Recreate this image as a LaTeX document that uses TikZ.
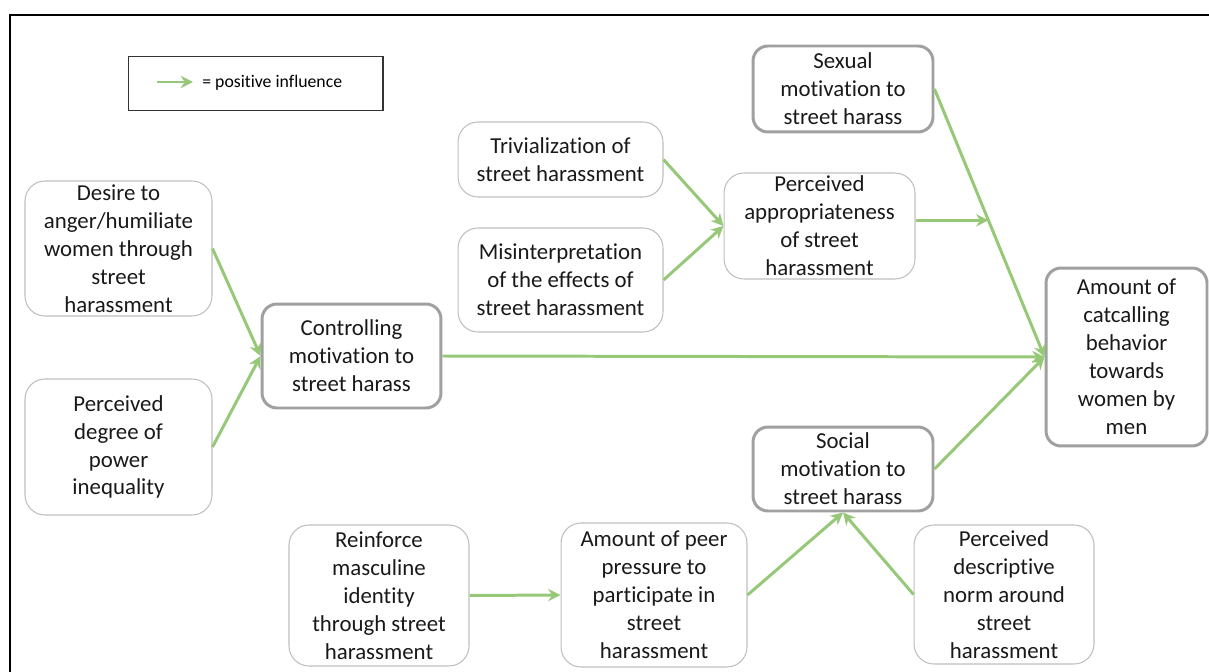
\documentclass[tikz,border=0pt]{standalone}
\usepackage{fontspec}
\setmainfont{Carlito}[Ligatures=NoCommon]
\usepackage{tikz}
\usepackage{xcolor}
\usetikzlibrary{calc, arrows.meta}

\definecolor{arrgreen}{RGB}{150,200,120}
\definecolor{thinline}{RGB}{191,191,191}
\definecolor{thickline}{RGB}{160,160,160}

\begin{document}
\begin{tikzpicture}[x=0.02cm, y=-0.02cm,
    factor/.style={
      rectangle,
      draw=thinline,
      line width=0.6pt,
      rounded corners=0.4cm,
      align=center,
      inner sep=0pt,
      text=black!90,
      font=\fontsize{13}{15.9}\selectfont
    },
    motive/.style={
      factor,
      draw=thickline,
      line width=1.7pt,
      rounded corners=0.3cm
    },
    infl/.style={arrgreen, line width=1.7pt, ->},
    >={Stealth[length=7pt,width=7pt]}]
  \useasboundingbox (0,0) rectangle (1209,672);
  \draw[line width=1.1pt] (1209,15) -- (10,15) -- (10,672);

  % legend
  \node[draw=black!80, line width=0.6pt, minimum width=5.1cm, minimum height=1.08cm] (L) at (255.5,83.5) {};
  \coordinate (La) at (157,82);
  \coordinate (Lb) at (193,82);
  \draw[infl] (La) -- (Lb);
  \node[anchor=west, inner sep=0pt, font=\fontsize{10.1}{12}\selectfont] (Lt) at (202,83) {= positive influence};

  % factors
  \node[factor, minimum width=3.74cm, minimum height=2.7cm] (D) at (118.5,248.5)
    {Desire to\\anger/humiliate\\women through\\street\\harassment};
  \node[factor, minimum width=3.74cm, minimum height=2.72cm] (P) at (118.5,447)
    {Perceived\\degree of\\power\\inequality};
  \node[motive, minimum width=3.58cm, minimum height=2.08cm] (C) at (351.5,356)
    {Controlling\\motivation to\\street harass};
  \node[factor, minimum width=4.1cm, minimum height=1.5cm] (T) at (560.5,159.5)
    {Trivialization of\\street harassment};
  \node[factor, minimum width=4.1cm, minimum height=2.08cm] (M) at (560.5,280)
    {Misinterpretation\\of the effects of\\street harassment};
  \node[factor, minimum width=3.82cm, minimum height=2.12cm] (A) at (819.5,226)
    {Perceived\\appropriateness\\of street\\harassment};
  \node[motive, minimum width=3.6cm, minimum height=1.72cm] (S) at (843,89)
    {Sexual\\motivation to\\street harass};
  \node[motive, minimum width=3.22cm, minimum height=3.56cm] (Y) at (1126.5,357)
    {Amount of\\catcalling\\behavior\\towards\\women by\\men};
  \node[motive, minimum width=3.6cm, minimum height=1.68cm] (O) at (843,469)
    {Social\\motivation to\\street harass};
  \node[factor, minimum width=3.6cm, minimum height=2.82cm] (R) at (379,595.5)
    {Reinforce\\masculine\\identity\\through street\\harassment};
  \node[factor, minimum width=3.72cm, minimum height=2.88cm] (E) at (654,595)
    {Amount of peer\\pressure to\\participate in\\street\\harassment};
  \node[factor, minimum width=3.6cm, minimum height=2.78cm] (N) at (1004,594.5)
    {Perceived\\descriptive\\norm around\\street\\harassment};

  % influences
  \draw[infl] (D.east) -- (C.west);
  \draw[infl] (P.east) -- (C.west);
  \draw[infl] (C.east) -- (Y.west);
  \draw[infl] (T.east) -- (A.west);
  \draw[infl] (M.east) -- (A.west);
  \draw[infl] (S.east) -- (Y.west);
  \coordinate (Q) at ($(S.east)!0.49!(Y.west)$);
  \draw[infl] (A.east |- Q) -- (Q);
  \draw[infl] (O.east) -- (Y.west);
  \draw[infl] (R.east) -- (E.west);
  \draw[infl] (E.east) -- (O.south);
  \draw[infl] (N.west) -- (O.south);
\end{tikzpicture}
\end{document}
